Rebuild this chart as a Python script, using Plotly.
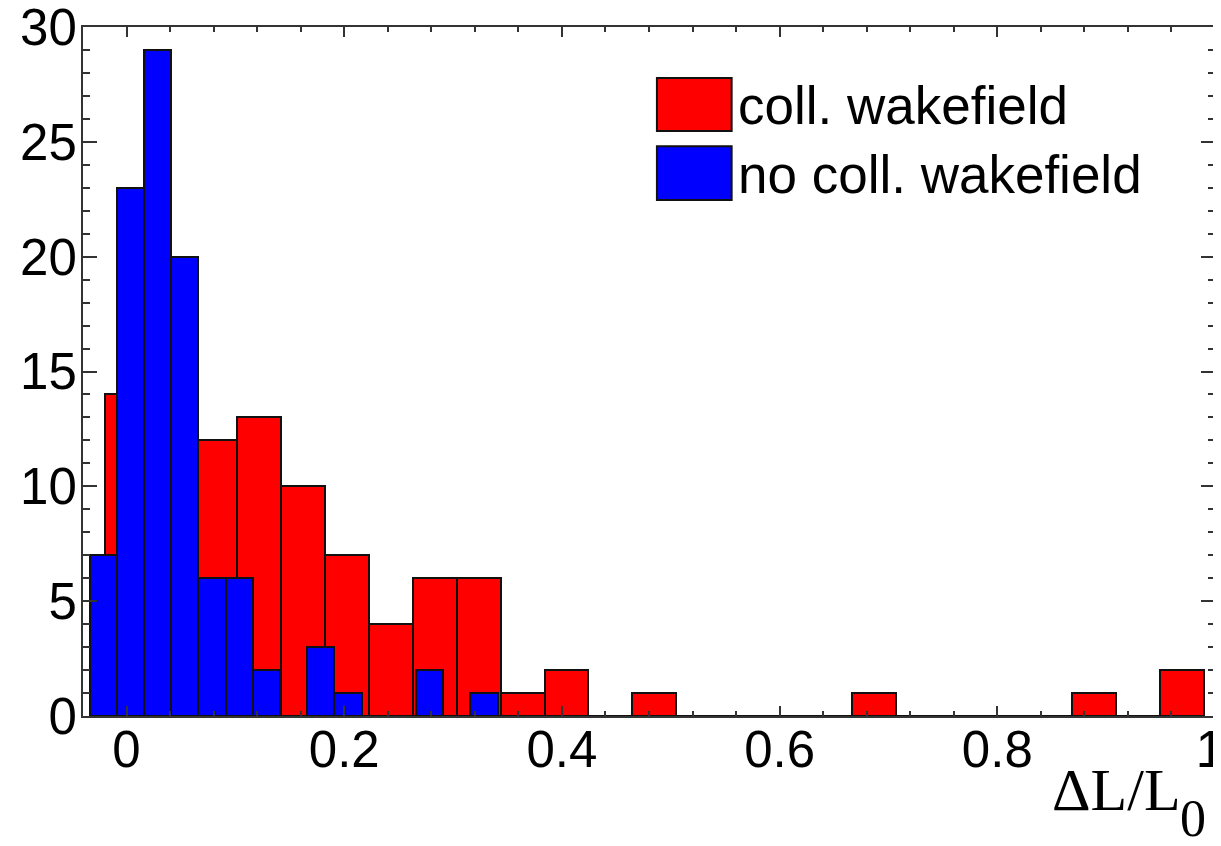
import plotly.graph_objects as go

# ---- data ----
red_name = "coll. wakefield"
blue_name = "no coll. wakefield"

red_bin_start = -0.02
red_bin_width = 0.0404
red_counts = [14, 20, 12, 13, 10, 7, 4, 6, 6, 1, 2, 0, 1, 0, 0, 0, 0, 1, 0, 0, 0, 0, 1, 0, 2]

blue_bin_start = -0.034
blue_bin_width = 0.025
blue_counts = [7, 23, 29, 20, 6, 6, 2, 0, 3, 1, 0, 0, 2, 0, 1]

x_tick_vals = [0, 0.2, 0.4, 0.6, 0.8, 1.0]
x_tick_text = ["0", "0.2", "0.4", "0.6", "0.8", "1\u2009"]
y_tick_vals = [0, 5, 10, 15, 20, 25, 30]

# ---- derived bin centres ----
red_x = [red_bin_start + red_bin_width * (i + 0.5) for i in range(len(red_counts))]
blue_x = [blue_bin_start + blue_bin_width * (i + 0.5) for i in range(len(blue_counts))]

RED = "#ff0000"
BLUE = "#0000ff"
EDGE = "#111111"
AXC = "#333333"
FONT = "Liberation Sans, Arial, sans-serif"
SERIF = "Liberation Serif, Times New Roman, serif"

fig = go.Figure()
fig.add_trace(go.Bar(x=red_x, y=red_counts, width=red_bin_width, name=red_name,
                     marker=dict(color=RED, line=dict(color=EDGE, width=2)),
                     showlegend=False))
fig.add_trace(go.Bar(x=blue_x, y=blue_counts, width=blue_bin_width, name=blue_name,
                     marker=dict(color=BLUE, line=dict(color=EDGE, width=2)),
                     showlegend=False))

# the page body adds an 8px margin, so the figure is 8px smaller than the window
fig.update_layout(
    width=1213, height=838,
    margin=dict(l=75, r=6, t=19, b=130, autoexpand=False),
    paper_bgcolor="white", plot_bgcolor="white",
    barmode="overlay", bargap=0,
    font=dict(family=FONT, size=51, color="black"),
    showlegend=False,
)

fig.update_xaxes(
    range=[-0.04, 1.0], automargin=False,
    tickmode="array", tickvals=x_tick_vals, ticktext=x_tick_text,
    ticks="inside", ticklen=10, tickwidth=1.5, tickcolor=AXC,
    minor=dict(tickmode="linear", tick0=0, dtick=0.04, ticks="inside",
               ticklen=5, tickwidth=1.5, tickcolor=AXC),
    showline=True, linecolor=AXC, linewidth=2, mirror="ticks",
    showgrid=False, zeroline=False,
    tickfont=dict(family=FONT, size=51, color="black"),
    ticklabelstandoff=-12, ticklabeloverflow="allow",
)
fig.update_yaxes(
    range=[0, 30], automargin=False,
    tickmode="array", tickvals=y_tick_vals,
    ticks="inside", ticklen=14, tickwidth=1.5, tickcolor=AXC,
    minor=dict(tickmode="linear", tick0=0, dtick=1, ticks="inside",
               ticklen=7, tickwidth=1.5, tickcolor=AXC),
    showline=True, linecolor=AXC, linewidth=2, mirror="ticks",
    showgrid=False, zeroline=False,
    tickfont=dict(family=FONT, size=51, color="black"),
    ticklabelstandoff=-6, ticklabeloverflow="allow",
)

# ---- manual legend (large swatches, as in the reference) ----
legend_items = [(red_name, RED, 0.926, 0.849, 0.886), (blue_name, BLUE, 0.827, 0.749, 0.786)]
for name, col, y1, y0, yt in legend_items:
    fig.add_shape(type="rect", xref="paper", yref="paper", x0=0.507, x1=0.573, y0=y0, y1=y1,
                  fillcolor=col, line=dict(color=EDGE, width=2))
    fig.add_annotation(xref="paper", yref="paper", x=0.577, y=yt, xanchor="left", yanchor="middle",
                       text=name, showarrow=False,
                       font=dict(family=FONT, size=53, color="black"))

# ---- x-axis title ΔL/L0 (serif, bottom right) ----
fig.add_annotation(xref="paper", yref="paper", x=0.9717, y=-0.108, xanchor="right", yanchor="middle",
                   text="ΔL/L", showarrow=False,
                   font=dict(family=SERIF, size=60, color="black"))
fig.add_annotation(xref="paper", yref="paper", x=0.981, y=-0.149, xanchor="center", yanchor="middle",
                   text="0", showarrow=False,
                   font=dict(family=SERIF, size=52, color="black"))

fig.write_html("out.html")
